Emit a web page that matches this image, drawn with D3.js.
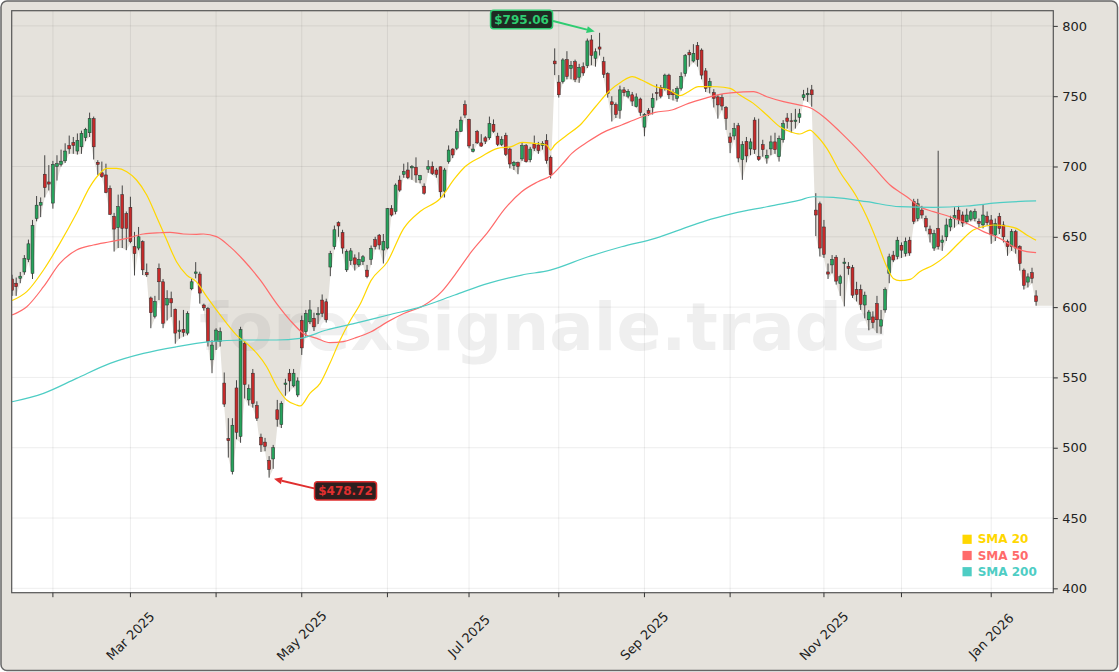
<!DOCTYPE html>
<html>
<head>
<meta charset="utf-8">
<script src="https://cdn.jsdelivr.net/npm/d3@7"></script>
<style>
  body { margin: 0; background: #ffffff; }
  svg { display: block; font-family: "DejaVu Sans", sans-serif; }
</style>
</head>
<body>
<svg id="chart"></svg>
<script>
var width = 1119;
var height = 672;

// daily candles, first session 2025-01-17
var startDay = "2025-01-17";
var holidays = ["2025-01-20","2025-02-17","2025-04-18","2025-05-26","2025-06-19",
  "2025-07-04","2025-09-01","2025-11-27","2025-12-25","2026-01-01","2026-01-19"];

var opens = [620,617,620.5,625,634,624,663,672.5,694.5,689,674,700,701.5,704,715,717,711,714,720.5,724,
  734,703,695.5,694,684.5,664.5,656.5,680,666.5,671,643,642,646.5,624.5,606.5,593.5,627.5,618,601.5,606,
  598.5,582.5,584,581.5,613,624,623.5,601.5,599,562.5,575.5,575.5,546,506.5,483,542.5,508,574,534,553,
  530,507.5,504,491,492,527,516.5,545,553,544,537.5,590.5,582.5,589.5,592,594.5,605,603.8,628.5,643,
  660,653,626.5,633,635,630,632.3,626.3,634,648,651.2,640.6,642,670,668,690.3,694.4,697.5,699,699.5,
  690.5,686,698,700,697.5,699.8,682.5,703.4,712.4,713,725,744,733.5,710.8,725,716.8,720.4,720.4,730,721.6,
  715.7,722.1,712.4,700.6,702.8,705.4,714.8,704.8,716,715.3,715,718.4,706.6,775,760,760.3,776,769.8,774.5,763.5,
  771,771.7,790,777,785,774.5,766,746,744,740,754.5,750,751,742.5,748,728,739.7,742,752.5,756.3,
  755.5,765,752.5,748.5,755.6,766,781,775,786,782.8,768,756.5,752.5,749.5,749,742,721,721.7,729,705,
  717.8,712.5,733,707,715.5,706,712.5,717.5,707,719,734.5,732.5,732,735,749,751,754.5,669,673.5,657,
  625,630,635.5,616.8,631,629,628,612.5,612.5,601.5,591,593,602.5,586.5,598,624,637,636,644,638.2,
  647.6,675,663,669,663,655.5,642,656,646,650,657,663,669,665.5,660.7,662.5,663,661,658.5,664.7,
  662,651.3,664.5,658.4,646.5,643,653.6,643,626.3,617.8,624.5,608];
var highs = [623,621,625,637,648,662,679,678,708,701,704,708,712,716.5,722,721,723.5,725.5,727.5,738.3,
  735.5,704.5,703.5,702,686.5,667,680,686.5,668,678.5,653.5,657,647.5,631,607.5,608,631,620,612,611,
  599,590.5,598,597,620.5,632,625.2,602.5,600,576.5,585,585.5,553.5,521,521,548,586,576,545,556,
  533,510,507,494,502,534,533,549,556,556,550,594,598,605,596,600,609,606,640,658,
  661,655,641,642,637.5,639,637,630,643.8,650,652,652,670.5,672.5,688,693.5,702,703,701,706.5,
  694,688,704.5,703.5,699,700,699,715,713,727,735.5,747,734,716,726,723,721.6,735.5,733.5,724,
  721.5,724,713.5,704,703.5,717,716,714,722,717.5,718,723,707.8,784,765,777,782,775,776,773,
  774,791,793.5,784,795.06,778,767,750,745.5,757.5,756.5,755,753,752,749,738,741.5,752,758.5,758,
  766,766,755,757,767,780,783,787,788.5,784,770,763,755,751,751.5,743,724,731,731,718,
  721,720,735,734,719,712,722,724,722,733,738,738,741,741,754.5,756,758,681,675,662,
  631,637,637,623,635,632,630,618,616,611,598,597,608,598,614,638,640,650,646,649.5,
  650,677,677,672,665,658,655,711.2,651,663,665,671,672,668,670,669,670,663,673,668,
  665.5,663,667,661,648,655.5,655,644,627.5,624,628,612];
var lows = [608,608,617,623,632,620,661,664,678,683,670,690,700,702.5,709,709,708.5,709,718,721,
  705,694,692,681,665.5,639.5,642,642,640.5,645.5,622.5,640.5,622.8,621.5,585,592,605,585,590.5,593,
  574,577.5,579,580,612,620.5,602.5,597.5,572,553,569.5,572,529,493,481,506,503.5,535,530,528.5,
  519,497,497.5,478.72,485,515,514,537,540,543,536,566,579,588,583,588,593,589,622,641,
  650,638,625,630,626,628.5,630,620.5,630,641,641,631,641,664.5,666,682,692,691,690.5,688.5,
  688,680,695.5,694,692,677.5,678,702,706,711.7,724.5,734.5,713,710,716,714,716,719,724,714.5,
  714.5,707.5,698.7,697.5,694.5,704,702.8,703,711,709,712,702,691.5,765,749,759,762,762,760,759.5,
  764.5,770,772,771,779,763,749,732,734.5,734,750,748.5,743,742,736,721.5,736,737,747,748.5,
  754,748,747,746,754,764,771,774,771,762,753,752,742,734,740,726,709.5,719,703,690.5,
  703,708,709,704,707,702,708,709,703.5,717,727,724,727,731,747,746,742.5,650.5,636,635,
  620,624,616,608,600.5,623,606.5,604,598,592,583.5,585,581.5,581,596,617,632,634,635,636,
  636.5,659,661,663,654,646,640,641,640,647,654,656.5,659,657,659,661,661,656.5,656,658,
  645,647,652,646,636.5,640,638,626,612.5,614,617,601];
var closes = [612,614.5,622,634.5,645,658,672.5,674.5,685,687.5,701.5,702,703.8,711,712.5,715,718.5,723.5,726.5,734,
  714,701.5,692.8,681.5,666,655.5,671.5,656,656,646.5,638,650,626.5,623,596,604,618,588.5,606,603,
  581.5,583.7,582,595.5,618,625,610,599.5,575.5,573,583.7,582.5,531,505,516,511,584,545,542,531.5,
  521,502,501,484.5,500,520,531.5,546,547.5,553,547.5,571,595.5,598,586,595.5,595.5,591,638,655,
  657.7,642,639.5,640,630.5,634,635.8,621.6,641.8,643,644.2,646.5,670,665.5,686.8,683.2,696.3,692,700,694,
  693.5,681,700,695,694.4,682,697.5,711.7,708.2,725,733,736.6,714.6,712.4,716.8,714.5,718,730.5,725,715.7,
  719.2,708.6,701.8,703,700,714.8,703.4,712.4,713,711.3,716.5,704.2,694.2,773,751,775.8,764,772,762,770.5,
  766.5,789.3,779,781.6,783.5,765.5,752,744,737,754.5,752.5,753.5,746.5,749.5,738.5,737,737.8,748.5,752,750,
  765,751,751,755.5,764,779,779.4,780.5,776,765,755.6,760.3,748.5,743.8,743,734,717,727,706,715.5,
  707.5,717.5,712,705,712,708,717.5,712,720,730.5,732,732,733,737.5,751,752,751,665.5,642,637.5,
  623.5,634,618.5,621.6,632,627.5,608.5,609,602,608.5,596.5,589,591,591,612.5,635.8,633.5,647.6,640.5,646.5,
  638.5,661,673.5,665.5,657,652,652.4,643,647.7,658.4,662.5,665,662,659.8,665.5,667.8,668,659.5,665.5,660,
  651.5,659.5,656,650,643,653.6,642,631,615.5,621.5,620.5,604];

// moving averages as [candle index, value]
var sma20 = [[0,604.7],[3.6,611],[7.7,626.4],[11.7,645.3],[15.8,666.7],[19.1,685.7],[21.5,695],[23.2,698.6],
  [25.6,698.6],[28.1,696.3],[30.5,690.4],[33,679.7],[35.4,664.3],[37.9,647.7],[40.3,632.3],[42.8,622.8],
  [45.2,618],[47.7,607.4],[50.1,597.9],[52.6,588.4],[55,580.1],[57.5,574.2],[60,567.1],[62.4,557.6],
  [64.9,543.4],[67.3,533.9],[69.8,530.3],[70.6,529.7],[73,538.7],[75.5,545.8],[77.9,560],[80.4,576.6],
  [83,591],[85.3,602],[88,619],[92,632.3],[96,656],[100,668],[105,677.4],[108.5,691.5],[111,699.8],
  [115,707],[119,712.9],[122.4,714.1],[125,717.2],[128,716.5],[131,715.3],[132,711.7],[133,715.3],
  [135.5,721.2],[139.6,730.6],[143,742.5],[146.2,753.2],[149.4,760.3],[152,763.9],[154.3,761.5],
  [157.6,756.8],[161,754.4],[163.7,750.4],[165.8,753.2],[168.2,756.8],[172.7,756.7],[176,755.6],
  [178.4,750.8],[181.7,744.9],[185,736.6],[188.2,728.3],[190.7,724.8],[193.1,723.1],[195.6,725.9],
  [196.8,723.1],[199.7,712.9],[202.9,696.3],[207,678.5],[209.5,664.3],[211.9,647.7],[214.4,628.7],
  [216,620.4],[217.6,618.8],[220.1,619.7],[222.5,625.2],[225.8,629.9],[229.1,637],[232.4,646.5],
  [235.6,654.8],[238,657.2],[240.5,658.4],[243.8,657.6],[246.2,656],[248.7,651.3],[251,647.5]];
var sma50 = [[0,594.4],[3.6,600.3],[7.7,614.5],[11.7,631.1],[15.8,640.6],[19.9,644.2],[24,646.5],[28.1,648.9],
  [32.2,652],[36.3,652.9],[38.7,653.2],[42,652],[45.2,651.8],[46.9,652],[50.1,650.1],[53.4,643],
  [56.7,633.5],[60.8,619.3],[64.8,602.7],[68.1,590.8],[71.4,581.3],[74.7,577.8],[77.9,574.7],[81.2,575.5],
  [84,578],[88,582.5],[92,589.5],[96,595.5],[100.8,601],[105.3,611],[108.5,622.8],[112.6,639.4],
  [116.7,653.7],[120.8,670],[124.9,682.1],[128.9,689.2],[132.3,694],[134.7,701.1],[137.2,709.3],
  [141.2,717.7],[145.3,724.8],[149.4,729.5],[153.5,734.3],[157.6,738.5],[161.7,740.2],[165.8,744.9],
  [169.8,748.5],[172.7,750.8],[176.8,752.5],[181.7,753.2],[185,749.6],[189.1,746.1],[193.1,743.7],
  [195.9,741.4],[198.9,735.4],[202.9,724.8],[207,712.9],[211.1,699.9],[215.2,686.8],[219.3,678.5],
  [222.5,671.4],[225.8,667.9],[229.9,664.3],[234,659.6],[238.1,653.7],[242.1,648.9],[246.2,641.8],
  [248.7,639.4],[251,638.7]];
var sma200 = [[0,532.7],[7.7,538.7],[15.8,549.3],[24,560],[32.2,567.1],[40.3,571.8],[48.5,575.4],
  [56.7,576.6],[64.8,576.6],[70.6,577.8],[77.1,583.7],[84,588.4],[92.2,594.4],[100.4,600.3],
  [108.5,608.6],[116.7,616.9],[124.9,622.8],[131.9,626.3],[141.2,635.8],[149.4,642.9],[157.6,648.9],
  [165.8,657.2],[169.8,661.2],[176.8,666.7],[185,671.4],[193.1,676.1],[196.4,678.5],[201.3,678],
  [209.5,675],[217.6,671.4],[225.8,671],[234,671.9],[242.1,674.3],[251,675.5]];

var priceTicks = [400, 450, 500, 550, 600, 650, 700, 750, 800];
var smaNames = ["SMA 20", "SMA 50", "SMA 200"];
var smaColors = ["#FFD700", "#FF6B6B", "#4ECDC4"];

var bg = "#e5e2dc";
var upColor = "#27a35c";
var downColor = "#c62a2a";

// trading calendar
var parse = d3.utcParse("%Y-%m-%d");
var fmtKey = d3.utcFormat("%Y-%m-%d");
var dates = [];
var day = parse(startDay);
while (dates.length < closes.length) {
  var wd = day.getUTCDay();
  if (wd != 0 && wd != 6 && holidays.indexOf(fmtKey(day)) < 0) dates.push(day);
  day = d3.utcDay.offset(day, 1);
}
var monthTicks = [];
dates.forEach(function(d, i) {
  if (i > 0 && d.getUTCMonth() != dates[i - 1].getUTCMonth()) monthTicks.push(i);
});

var pL = 11.7, pR = 1053.3, pT = 10.7, pB = 592.7;

var svg = d3.select("svg")
  .attr("width", width)
  .attr("height", height);

svg.append("rect")
  .attr("x", 1).attr("y", 1)
  .attr("width", width - 2.5).attr("height", height - 2.5)
  .attr("rx", 6)
  .style("fill", bg)
  .style("stroke", "#666")
  .style("stroke-width", 1.5);

var x = d3.scaleLinear().domain([-0.1, 255.22]).range([pL, pR]);
var y = d3.scaleLinear().domain([396.9, 810.8]).range([pB, pT]);

svg.append("clipPath").attr("id", "plot")
  .append("rect")
  .attr("x", pL).attr("y", pT)
  .attr("width", pR - pL).attr("height", pB - pT);

var plot = svg.append("g").attr("clip-path", "url(#plot)");

plot.append("rect")
  .attr("x", pL).attr("y", pT)
  .attr("width", pR - pL).attr("height", pB - pT)
  .style("fill", "#ffffff");

// shade everything above the lows
var shade = [[pL, y(lows[0])]];
lows.forEach(function(v, i) { shade.push([x(i), y(v)]); });
shade.push([pR, y(lows[lows.length - 1])]);
var area = d3.area()
  .x(function(d) { return d[0]; })
  .y0(pT)
  .y1(function(d) { return d[1]; });
plot.append("path")
  .attr("d", area(shade))
  .style("fill", bg);

// grid
plot.selectAll(".hgrid")
  .data(priceTicks).enter().append("line")
  .attr("x1", pL).attr("x2", pR)
  .attr("y1", function(d) { return y(d); })
  .attr("y2", function(d) { return y(d); })
  .style("stroke", "rgba(0,0,0,0.09)")
  .style("stroke-width", 0.8);
plot.selectAll(".vgrid")
  .data(monthTicks).enter().append("line")
  .attr("y1", pT).attr("y2", pB)
  .attr("x1", function(d) { return x(d); })
  .attr("x2", function(d) { return x(d); })
  .style("stroke", "rgba(0,0,0,0.09)")
  .style("stroke-width", 0.8);

plot.append("text")
  .attr("x", 543).attr("y", 327)
  .attr("text-anchor", "middle")
  .attr("dominant-baseline", "central")
  .style("font-size", "66px")
  .style("font-weight", "bold")
  .style("fill", "#808080")
  .style("fill-opacity", 0.13)
  .text("forexsignale.trade");

// candles
var candle = plot.selectAll(".candle")
  .data(closes).enter().append("g")
  .attr("class", "candle");

candle.append("line")
  .attr("x1", function(d, i) { return x(i); })
  .attr("x2", function(d, i) { return x(i); })
  .attr("y1", function(d, i) { return y(highs[i]); })
  .attr("y2", function(d, i) { return y(lows[i]); })
  .style("stroke", "#333")
  .style("stroke-width", 0.9);

candle.append("rect")
  .attr("x", function(d, i) { return x(i) - 1.45; })
  .attr("width", 2.9)
  .attr("y", function(d, i) { return y(Math.max(opens[i], d)); })
  .attr("height", function(d, i) { return Math.max(0.8, Math.abs(y(opens[i]) - y(d))); })
  .style("fill", function(d, i) { return d >= opens[i] ? upColor : downColor; })
  .style("stroke", "#2a2a2a")
  .style("stroke-width", 0.5);

// moving averages
var line = d3.line()
  .x(function(d) { return x(d[0]); })
  .y(function(d) { return y(d[1]); })
  .curve(d3.curveMonotoneX);

[sma20, sma50, sma200].forEach(function(s, k) {
  plot.append("path")
    .attr("d", line(s))
    .style("fill", "none")
    .style("stroke", smaColors[k])
    .style("stroke-width", 1.2);
});

// frame
svg.append("rect")
  .attr("x", pL).attr("y", pT)
  .attr("width", pR - pL).attr("height", pB - pT)
  .style("fill", "none")
  .style("stroke", "#555")
  .style("stroke-width", 1.2);

// right price axis
var yAxis = svg.append("g")
  .attr("transform", "translate(" + pR + ",0)")
  .call(d3.axisRight(y).tickValues(priceTicks).tickSize(4.5).tickPadding(4.5));
yAxis.select(".domain").remove();
yAxis.selectAll("line").style("stroke", "#333");
yAxis.selectAll("text")
  .style("font-size", "13px")
  .style("font-family", "DejaVu Sans")
  .style("fill", "#222");

// month ticks
svg.selectAll(".xtick")
  .data(monthTicks).enter().append("line")
  .attr("x1", function(d) { return x(d); })
  .attr("x2", function(d) { return x(d); })
  .attr("y1", pB).attr("y2", pB + 4.5)
  .style("stroke", "#333");

var monthFmt = d3.utcFormat("%b %Y");
svg.selectAll(".xlabel")
  .data(monthTicks.filter(function(i) { return dates[i].getUTCMonth() % 2 == 0; }))
  .enter().append("text")
  .attr("transform", function(d) { return "translate(" + x(d) + ",636) rotate(-45)"; })
  .attr("text-anchor", "middle")
  .attr("dominant-baseline", "central")
  .style("font-size", "13px")
  .style("fill", "#222")
  .text(function(d) { return monthFmt(dates[d]); });

// legend
var legend = svg.selectAll(".legend")
  .data(smaNames).enter().append("g")
  .attr("transform", function(d, i) { return "translate(962.5," + [539.3, 555.5, 571.7][i] + ")"; });
legend.append("rect")
  .attr("x", 0).attr("y", -4.6)
  .attr("width", 9.2).attr("height", 9.2)
  .style("fill", function(d, i) { return smaColors[i]; });
legend.append("text")
  .attr("x", 15.2)
  .attr("dominant-baseline", "central")
  .style("font-size", "12px")
  .style("font-weight", "bold")
  .style("fill", function(d, i) { return smaColors[i]; })
  .text(function(d) { return d; });

// high / low callouts
function callout(i, value, dx, dy, color, boxFill) {
  var px = x(i), py = y(value);
  var bx = px + dx, by = py + dy;
  var sx = dx < 0 ? bx + 31.5 : bx - 31.5;
  var sy = by + (dy < 0 ? 1.5 : -2.5);
  var ang = Math.atan2(py - sy, px - sx);
  var tx = px - Math.cos(ang) * 5, ty = py - Math.sin(ang) * 5;
  var hx = tx - Math.cos(ang) * 8, hy = ty - Math.sin(ang) * 8;
  svg.append("line")
    .attr("x1", sx).attr("y1", sy).attr("x2", hx).attr("y2", hy)
    .style("stroke", color).style("stroke-width", 2);
  svg.append("path")
    .attr("d", "M" + tx + "," + ty +
      "L" + (hx + Math.sin(ang) * 3.6) + "," + (hy - Math.cos(ang) * 3.6) +
      "L" + (hx - Math.sin(ang) * 3.6) + "," + (hy + Math.cos(ang) * 3.6) + "Z")
    .style("fill", color);
  svg.append("rect")
    .attr("x", bx - 31).attr("y", by - 9.2)
    .attr("width", 62).attr("height", 18.4)
    .attr("rx", 3)
    .style("fill", boxFill)
    .style("stroke", color)
    .style("stroke-width", 1.5);
  svg.append("text")
    .attr("x", bx).attr("y", by)
    .attr("text-anchor", "middle")
    .attr("dominant-baseline", "central")
    .style("font-size", "12px")
    .style("font-weight", "bold")
    .style("fill", color)
    .text("$" + value.toFixed(2));
}

var hiIdx = d3.maxIndex(highs);
var loIdx = d3.minIndex(lows);
callout(hiIdx, highs[hiIdx], -78, -13.3, "#2ecc71", "#1f2b23");
callout(loIdx, lows[loIdx], 76.4, 13.2, "#e02f2f", "#2d1e1e");
</script>
</body>
</html>
